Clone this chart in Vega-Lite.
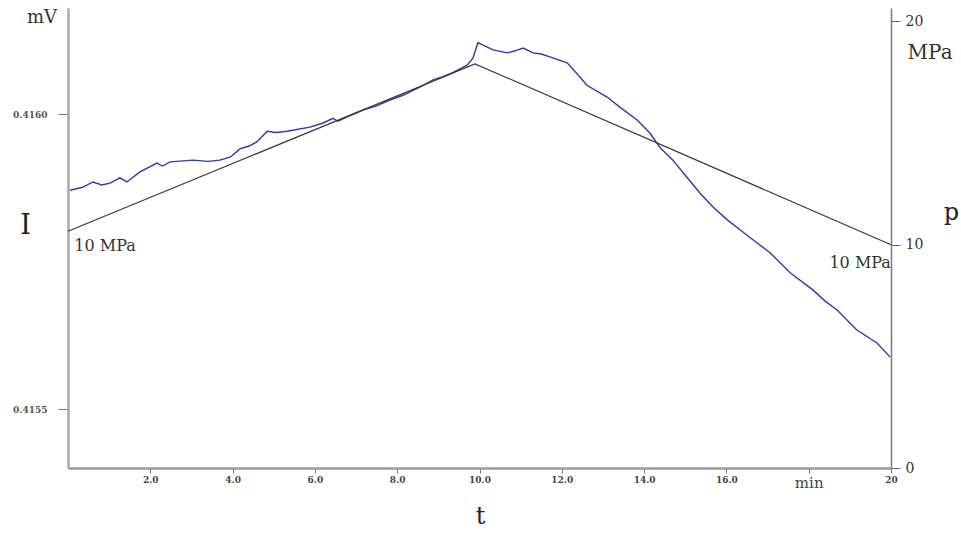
{
  "$schema": "https://vega.github.io/schema/vega-lite/v6.json",
  "width": 823,
  "height": 460,
  "autosize": {"type": "none"},
  "padding": {"left": 68, "top": 8, "right": 70, "bottom": 65},
  "background": "white",
  "config": {"view": {"stroke": null}, "axis": {"grid": false}},
  "datasets": {
    "current": [
      {"t": 0.05, "mv": 0.415871}, {"t": 0.35, "mv": 0.415876}, {"t": 0.61, "mv": 0.415885},
      {"t": 0.82, "mv": 0.415880}, {"t": 1.02, "mv": 0.415883}, {"t": 1.26, "mv": 0.415892},
      {"t": 1.43, "mv": 0.415885}, {"t": 1.75, "mv": 0.415902}, {"t": 2.16, "mv": 0.415917},
      {"t": 2.30, "mv": 0.415912}, {"t": 2.48, "mv": 0.415919}, {"t": 3.04, "mv": 0.415922},
      {"t": 3.40, "mv": 0.415920}, {"t": 3.69, "mv": 0.415922}, {"t": 3.94, "mv": 0.415927},
      {"t": 4.18, "mv": 0.415941}, {"t": 4.40, "mv": 0.415946}, {"t": 4.59, "mv": 0.415953},
      {"t": 4.84, "mv": 0.415971}, {"t": 5.05, "mv": 0.415969}, {"t": 5.32, "mv": 0.415971},
      {"t": 5.88, "mv": 0.415978}, {"t": 6.20, "mv": 0.415985}, {"t": 6.44, "mv": 0.415993},
      {"t": 6.56, "mv": 0.415988}, {"t": 6.80, "mv": 0.415996}, {"t": 7.17, "mv": 0.416007},
      {"t": 7.50, "mv": 0.416014}, {"t": 7.82, "mv": 0.416024}, {"t": 8.14, "mv": 0.416032},
      {"t": 8.55, "mv": 0.416046}, {"t": 8.87, "mv": 0.416058}, {"t": 9.10, "mv": 0.416063},
      {"t": 9.36, "mv": 0.416071}, {"t": 9.70, "mv": 0.416083}, {"t": 9.84, "mv": 0.416095},
      {"t": 9.96, "mv": 0.416121}, {"t": 10.09, "mv": 0.416117}, {"t": 10.33, "mv": 0.416109},
      {"t": 10.67, "mv": 0.416104}, {"t": 10.85, "mv": 0.416107}, {"t": 11.06, "mv": 0.416112},
      {"t": 11.30, "mv": 0.416104}, {"t": 11.50, "mv": 0.416102}, {"t": 11.71, "mv": 0.416097},
      {"t": 12.13, "mv": 0.416087}, {"t": 12.44, "mv": 0.416063}, {"t": 12.61, "mv": 0.416049},
      {"t": 13.10, "mv": 0.416029}, {"t": 13.41, "mv": 0.416012}, {"t": 13.83, "mv": 0.415990},
      {"t": 14.14, "mv": 0.415968}, {"t": 14.39, "mv": 0.415943}, {"t": 14.70, "mv": 0.415922},
      {"t": 15.04, "mv": 0.415893}, {"t": 15.36, "mv": 0.415866}, {"t": 15.67, "mv": 0.415843},
      {"t": 16.00, "mv": 0.415822}, {"t": 16.33, "mv": 0.415804}, {"t": 16.70, "mv": 0.415784},
      {"t": 17.06, "mv": 0.415765}, {"t": 17.55, "mv": 0.415731}, {"t": 18.10, "mv": 0.415702},
      {"t": 18.40, "mv": 0.415683}, {"t": 18.69, "mv": 0.415668}, {"t": 19.17, "mv": 0.415634},
      {"t": 19.66, "mv": 0.415612}, {"t": 19.98, "mv": 0.415588}
    ],
    "pressure": [
      {"t": 0, "p": 10.6}, {"t": 9.89, "p": 18.1}, {"t": 20, "p": 10.0}
    ],
    "notes": [
      {"t": 0.9, "p": 9.95, "label": "10 MPa", "size": 16},
      {"t": 19.25, "p": 9.2, "label": "10 MPa", "size": 16},
      {"t": -0.63, "p": 20.15, "label": "mV", "size": 18},
      {"t": 20.95, "p": 18.6, "label": "MPa", "size": 20}
    ]
  },
  "resolve": {"scale": {"y": "independent"}},
  "layer": [
    {
      "data": {"name": "current"},
      "mark": {"type": "line", "color": "#3535ad", "strokeWidth": 1.4},
      "encoding": {
        "x": {
          "field": "t", "type": "quantitative",
          "scale": {"domain": [0, 20], "nice": false},
          "axis": {
            "values": [2, 4, 6, 8, 10, 12, 14, 16, 18, 20],
            "labelExpr": "datum.value == 18 ? 'min' : datum.value == 20 ? '20' : format(datum.value, '.1f')",
            "labelFont": "DejaVu Serif",
            "labelFontWeight": {"condition": {"test": "datum.value == 18", "value": "normal"}, "value": "bold"},
            "labelFontSize": {"condition": {"test": "datum.value == 18", "value": 15}, "value": 9},
            "labelColor": "#444",
            "labelPadding": 2,
            "labelFlush": false,
            "labelOverlap": false,
            "tickSize": 5,
            "tickColor": "#777",
            "domainColor": "#9a9a9a",
            "domainWidth": 2.5,
            "title": "t",
            "titleFont": "DejaVu Serif",
            "titleFontSize": 24,
            "titleFontWeight": "normal",
            "titleColor": "#222",
            "titleX": 412,
            "titleY": 48,
            "titleBaseline": "middle",
            "titleAlign": "center"
          }
        },
        "y": {
          "field": "mv", "type": "quantitative",
          "scale": {"domain": [0.4154, 0.41618], "nice": false, "zero": false},
          "axis": {
            "orient": "left",
            "values": [0.4155, 0.416],
            "format": ".4f",
            "labelFont": "DejaVu Serif",
            "labelFontWeight": "bold",
            "labelFontSize": 9,
            "labelColor": "#555",
            "labelPadding": 11,
            "tickSize": 10,
            "tickColor": "#777",
            "domainColor": "#a8a8a8",
            "domainWidth": 2.5,
            "title": "I",
            "titleAngle": 0,
            "titleFont": "DejaVu Serif",
            "titleFontSize": 27,
            "titleFontWeight": "normal",
            "titleColor": "#222",
            "titleX": -43,
            "titleY": 217,
            "titleAlign": "center",
            "titleBaseline": "middle"
          }
        }
      }
    },
    {
      "layer": [
        {
          "data": {"name": "pressure"},
          "mark": {"type": "line", "color": "#3a3a3a", "strokeWidth": 1.2},
          "encoding": {
            "x": {"field": "t", "type": "quantitative"},
            "y": {
              "field": "p", "type": "quantitative",
              "scale": {"domain": [0, 20.6], "nice": false},
              "axis": {
                "orient": "right",
                "values": [0, 10, 20],
                "labelFont": "DejaVu Serif",
                "labelFontSize": 14,
                "labelColor": "#333",
                "labelPadding": 5,
                "tickSize": 9,
                "tickColor": "#666",
                "domainColor": "#7a7a7a",
                "domainWidth": 1.5,
                "title": "p",
                "titleAngle": 0,
                "titleFont": "DejaVu Serif",
                "titleFontSize": 24,
                "titleFontWeight": "normal",
                "titleColor": "#222",
                "titleX": 60,
                "titleY": 204,
                "titleAlign": "center",
                "titleBaseline": "middle"
              }
            }
          }
        },
        {
          "data": {"name": "notes"},
          "mark": {"type": "text", "font": "DejaVu Serif", "color": "#333", "align": "center", "baseline": "middle"},
          "encoding": {
            "x": {"field": "t", "type": "quantitative"},
            "y": {"field": "p", "type": "quantitative"},
            "text": {"field": "label"},
            "size": {"field": "size", "type": "quantitative", "scale": null, "legend": null}
          }
        }
      ]
    }
  ]
}
